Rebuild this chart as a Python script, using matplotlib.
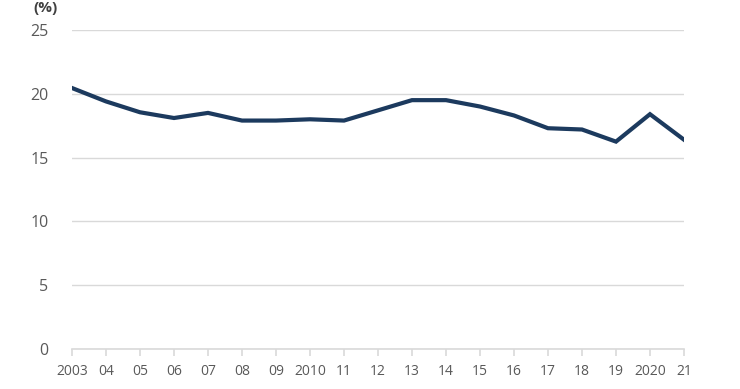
import matplotlib.pyplot as plt

plt.rcParams["font.family"] = ["Open Sans", "DejaVu Sans"]

years = list(range(2003, 2022))
year_labels = ["2003", "04", "05", "06", "07", "08", "09", "2010", "11",
               "12", "13", "14", "15", "16", "17", "18", "19", "2020", "21"]
share = [20.45, 19.4, 18.55, 18.1, 18.5, 17.9, 17.9, 18.0, 17.9,
         18.7, 19.5, 19.5, 19.0, 18.3, 17.3, 17.2, 16.25, 18.4, 16.4]

fig = plt.figure(figsize=(7.4, 3.89), dpi=100)
ax = fig.add_axes([0.0973, 0.1028, 0.8270, 0.8202])

ax.plot(years, share, color="#1c3a5e", linewidth=3, solid_joinstyle="miter", zorder=3)

ax.set_xlim(2003, 2021)
ax.set_ylim(0, 25)
ax.set_yticks([0, 5, 10, 15, 20, 25])
ax.set_xticks(years)
ax.set_xticklabels(year_labels)

ax.grid(axis="y", color="#d9d9d9", linewidth=1)
ax.set_axisbelow(True)
for side in ["left", "right", "top"]:
    ax.spines[side].set_visible(False)
ax.spines["bottom"].set_color("#d9d9d9")
ax.spines["bottom"].set_linewidth(1.2)

ax.tick_params(axis="y", length=0, pad=17, labelsize=11.5, labelcolor="#595959")
ax.tick_params(axis="x", length=5, color="#d9d9d9", width=1.2, pad=6,
               labelsize=10, labelcolor="#595959")

fig.text(0.045, 0.997, "(%)", fontsize=11, fontweight="bold", color="#404040",
         ha="left", va="top")

fig.savefig("out.png", dpi=100)
